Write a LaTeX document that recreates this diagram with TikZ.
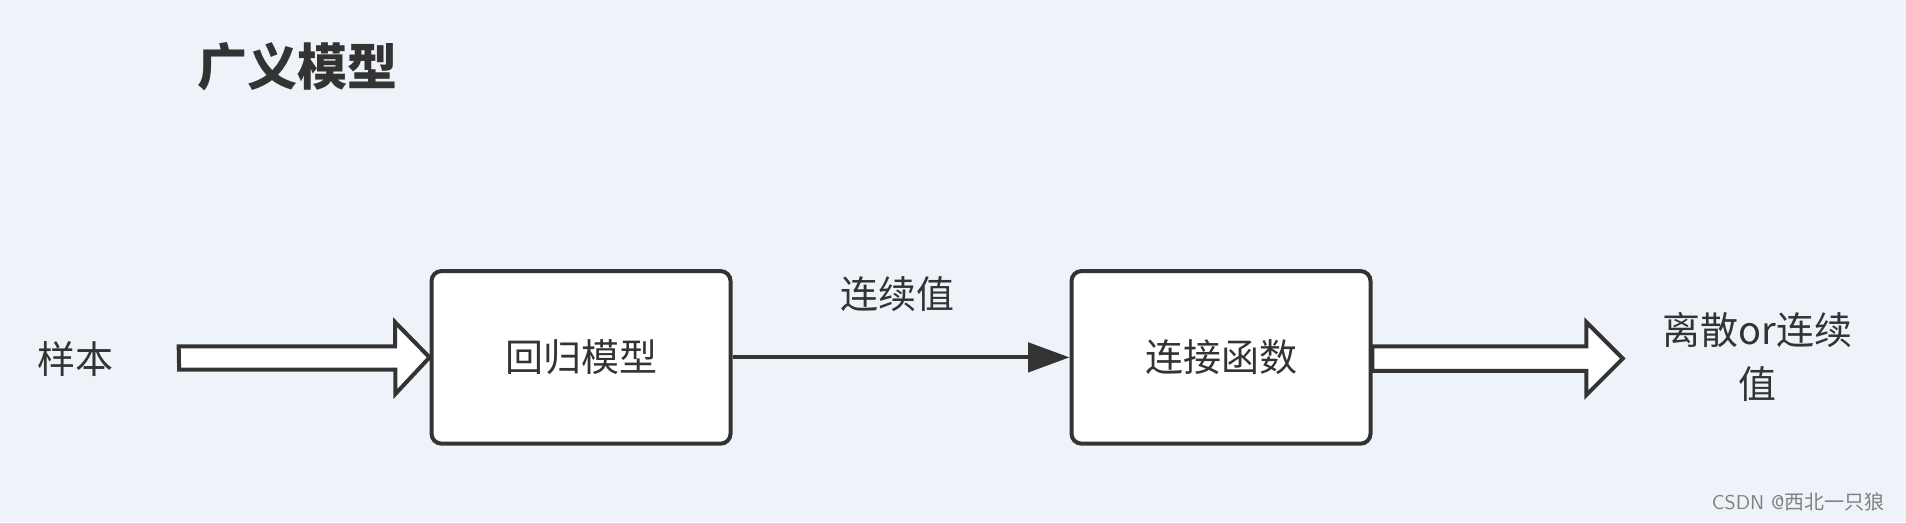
\documentclass[tikz,border=0pt]{standalone}
\usepackage{fontspec}
\newfontfamily\cjk{Noto Sans CJK SC}
\usetikzlibrary{arrows.meta}
\definecolor{bg}{HTML}{EEF3FA}
\definecolor{ink}{HTML}{333333}
\begin{document}
\begin{tikzpicture}[x=0.6078pt,y=-0.6078pt,
  box/.style={draw=ink,line width=2pt,rounded corners=5pt,fill=white,minimum width=246*0.6078pt,minimum height=142*0.6078pt,font=\cjk\fontsize{19}{22}\selectfont,text=ink},
  lbl/.style={font=\cjk\fontsize{19}{23}\selectfont,text=ink,align=center},
  hollow/.style={draw=ink,line width=2pt,fill=white,line join=miter}]
\fill[bg] (0,0) rectangle (1568,429.5);
\useasboundingbox (0,0) rectangle (1568,429.5);
\node[font=\cjk\bfseries\fontsize{25}{30}\selectfont,text=ink,anchor=west] (title) at (157,55) {广义模型};
\node[lbl] (sample) at (62,295) {样本};
\node[box] (reg) at (478,294) {回归模型};
\node[box] (link) at (1004.5,294) {连接函数};
\node[lbl] (cv) at (738,242) {连续值};
\node[lbl,font=\cjk\fontsize{19}{27}\selectfont] (out) at (1446,294) {离散or连续\\值};
\node[font=\sffamily\fontsize{10}{12}\selectfont,text=gray,anchor=east] (wm) at (1556,413) {CSDN @\cjk 西北一只狼};
\coordinate (a1) at (147,295);
\coordinate (b1) at (1129,295);
\draw[hollow] (a1) ++(0,-10) -- ++(178,0) -- ++(0,-20) -- (reg.west) -- ++(-28,30) -- ++(0,-20) -- ++(-178,0) -- cycle;
\draw[hollow] (b1) ++(0,-10) -- ++(176,0) -- ++(0,-20) -- ++(30,30) -- ++(-30,30) -- ++(0,-20) -- ++(-176,0) -- cycle;
\draw[ink,line width=2pt,-{Triangle[length=34*0.6078pt,width=24*0.6078pt]}] (reg.east) -- (link.west);
\end{tikzpicture}
\end{document}
